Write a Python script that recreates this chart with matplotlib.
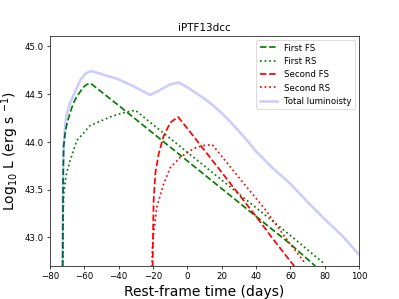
import numpy as np
import matplotlib
matplotlib.use('Agg')
import matplotlib.pyplot as plt

# values (time in days, log10 L)
fs1_t = [-72.6, -72.3, -72.0, -71.2, -70.3, -68.3, -66.4, -64.4, -62.5, -60.5, -58.5, -56.2,
         -40, -20, 0, 20, 40, 60, 74.5]
fs1_y = [42.5, 43.6, 43.95, 44.08, 44.17, 44.30, 44.40, 44.47, 44.52, 44.57, 44.60, 44.61,
         44.38, 44.09, 43.80, 43.51, 43.22, 42.93, 42.70]

rs1_t = [-72.6, -72.3, -72.0, -71.2, -70.3, -68.3, -64.4, -60.0, -56.6, -50.0, -44.9, -38.0, -30.3,
         -20, 0, 20, 40, 60, 80]
rs1_y = [42.5, 43.2, 43.45, 43.56, 43.67, 43.80, 44.01, 44.10, 44.17, 44.22, 44.26, 44.30, 44.33,
         44.18, 43.89, 43.60, 43.31, 43.02, 42.72]

fs2_t = [-20.3, -20.0, -19.6, -18.6, -16.7, -13.8, -9.9, -5.4, 0, 10, 20, 30, 40, 50, 62.2]
fs2_y = [42.5, 43.0, 43.39, 43.67, 43.87, 44.06, 44.20, 44.26, 44.14, 43.91, 43.68, 43.45, 43.22, 42.98, 42.70]

rs2_t = [-20.8, -20.3, -19.6, -17.7, -13.8, -9.9, -4.0, 3.8, 9.0, 14.5, 21.3, 33, 45, 57, 69]
rs2_y = [42.5, 42.9, 43.04, 43.32, 43.56, 43.73, 43.84, 43.93, 43.96, 43.97, 43.82, 43.56, 43.30, 43.00, 42.72]

tot_t = [-72.7, -72.4, -72.0, -71.2, -70.3, -68.4, -66.4, -64.4, -62.5, -59.5, -56.2, -52, -47, -41,
         -36, -31.3, -26, -21.6, -18, -14, -10, -5, 0, 5, 10, 15, 20, 25, 30, 35, 40, 45, 50, 60,
         70, 80, 90, 100]
tot_y = [42.5, 43.5, 43.95, 44.15, 44.28, 44.40, 44.48, 44.56, 44.64, 44.71, 44.74, 44.72, 44.69, 44.66,
         44.62, 44.58, 44.53, 44.49, 44.52, 44.56, 44.60, 44.62, 44.57, 44.51, 44.45, 44.38, 44.30, 44.21,
         44.11, 44.01, 43.90, 43.81, 43.72, 43.56, 43.37, 43.19, 43.02, 42.82]

fig = plt.figure(figsize=(6.4, 4.8), dpi=62.35)
ax = fig.add_subplot(111)

ax.plot(fs1_t, fs1_y, '--', color='green', lw=2, label='First FS')
ax.plot(rs1_t, rs1_y, ':', color='green', lw=2, label='First RS')
ax.plot(fs2_t, fs2_y, '--', color='red', lw=2, label='Second FS')
ax.plot(rs2_t, rs2_y, ':', color='red', lw=2, label='Second RS')
ax.plot(tot_t, tot_y, '-', color='blue', alpha=0.2, lw=3, label='Total luminoisty')

ax.set_xlim(-80, 100)
ax.set_ylim(42.7, 45.11)
ax.set_yticks([43.0, 43.5, 44.0, 44.5, 45.0])
ax.set_title('iPTF13dcc')
ax.set_xlabel('Rest-frame time (days)', fontsize=16)
ax.set_ylabel(r'Log$_{10}$ L (erg s $^{-1}$)', fontsize=16)
ax.legend(loc='upper right')

fig.savefig('out.png', dpi=62.35)
